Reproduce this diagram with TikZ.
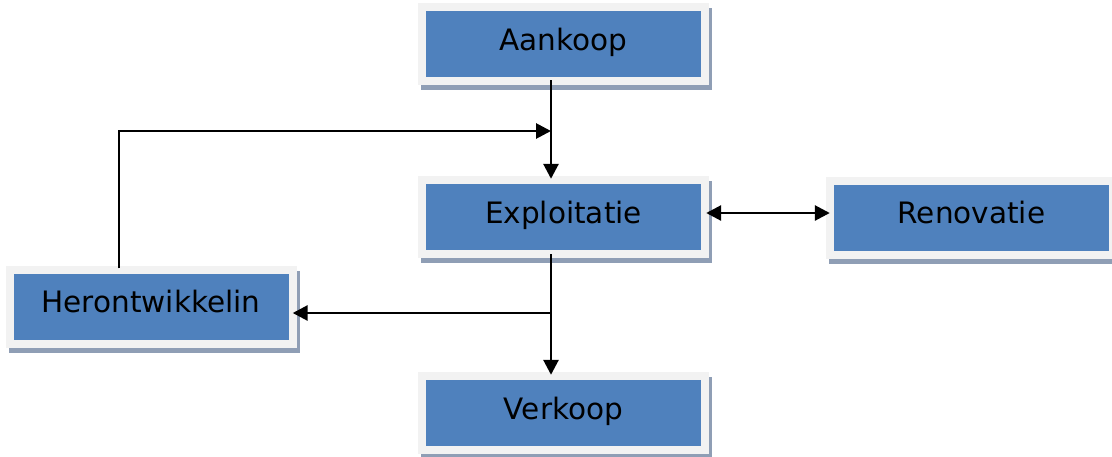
\documentclass[tikz,border=0pt]{standalone}
\usepackage{fontspec}
\setmainfont{DejaVu Sans}
\usetikzlibrary{arrows.meta}
\definecolor{boxblue}{HTML}{4F81BD}
\definecolor{boxframe}{HTML}{F2F2F2}
\definecolor{boxshadow}{RGB}{143,158,181}
\tikzset{
  stage/.style={rectangle, fill=boxframe, minimum width=291pt, minimum height=82pt,
    inner sep=0pt, text height=20pt, text depth=8pt,
    font=\fontsize{29.5}{34}\selectfont,
    preaction={fill=boxshadow, transform canvas={shift={(3pt,-5pt)}}},
    path picture={\fill[boxblue] ([shift={(8pt,8pt)}]path picture bounding box.south west)
      rectangle ([shift={(-8pt,-8pt)}]path picture bounding box.north east);}},
  tip/.tip={Triangle[length=15pt,width=15pt]},
  conn/.style={line width=2.8pt, -tip}
}
\begin{document}
\begin{tikzpicture}[x=1pt,y=-1pt]
\useasboundingbox[fill=white] (0,0) rectangle (1112,456);
\node[stage] (aankoop) at (563.5,44) {Aankoop};
\node[stage] (exploitatie) at (563.5,217) {Exploitatie};
\node[stage] (verkoop) at (563.5,413) {Verkoop};
\node[stage] (herontw) at (151,306.5) {Herontwikkelin};
\node[stage] (renovatie) at (971.5,217.5) {Renovatie};
\coordinate (trunk) at (551,0);
\coordinate (fb) at (119,131);
\coordinate (split) at (551,313);
\coordinate (side) at (0,213);
\draw[conn, shorten <=-5pt, shorten >=-3pt] (aankoop.south -| trunk) -- (exploitatie.north -| trunk);
\draw[conn, shorten <=-3pt] (herontw.north -| fb) |- (fb -| trunk);
\draw[conn, tip-tip, shorten <=-3pt, shorten >=-4pt] (exploitatie.east |- side) -- (renovatie.west |- side);
\draw[conn, shorten <=-4pt, shorten >=-3pt] (exploitatie.south -| trunk) -- (verkoop.north -| trunk);
\draw[conn, shorten >=-4pt] (split) -- (herontw.east |- split);
\end{tikzpicture}
\end{document}
